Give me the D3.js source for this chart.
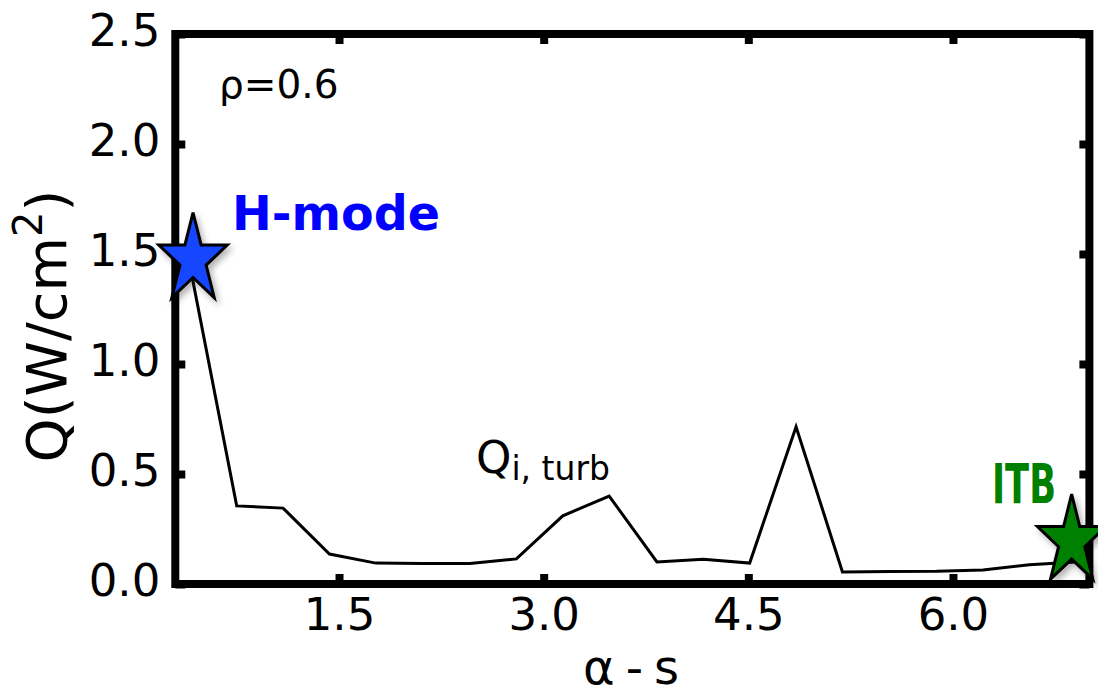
<!DOCTYPE html>
<html>
<head>
<meta charset="utf-8">
<script src="https://cdn.jsdelivr.net/npm/d3@7"></script>
<style>
  html, body { margin: 0; padding: 0; background: #fff; }
  svg { display: block; font-family: "DejaVu Sans", sans-serif; }
</style>
</head>
<body>
<svg id="chart" width="1098" height="696"></svg>
<script>
// Turbulent ion heat flux vs alpha - s at rho = 0.6
const alphaS = [0.40, 0.75, 1.09, 1.43, 1.77, 2.11, 2.46, 2.80, 3.14, 3.48,
                3.83, 4.17, 4.51, 4.85, 5.19, 5.54, 5.88, 6.22, 6.56, 6.90];
const qTurb  = [1.47, 0.355, 0.345, 0.136, 0.095, 0.093, 0.093, 0.114, 0.31, 0.40,
                0.10, 0.113, 0.095, 0.715, 0.055, 0.057, 0.058, 0.064, 0.088, 0.10];

// Regime markers
const regimeNames = ["H-mode", "ITB"];
const regimeX = [0.43, 6.87];
const regimeY = [1.475, 0.195];
const regimeColors = ["#1446ff", "#008000"];

const xTicks = [1.5, 3.0, 4.5, 6.0];
const yTicks = [0.0, 0.5, 1.0, 1.5, 2.0, 2.5];
const xDomain = [0.3, 7.0];
const yDomain = [0, 2.5];

const svg = d3.select("#chart");

// plot frame
const x = d3.scaleLinear().domain(xDomain).range([175.3, 1089.4]);
const y = d3.scaleLinear().domain(yDomain).range([584, 34]);

const defs = svg.append("defs");
const shadow = defs.append("filter").attr("id", "shadow")
  .attr("x", "-40%").attr("y", "-40%").attr("width", "180%").attr("height", "180%");
shadow.append("feDropShadow")
  .attr("dx", 3).attr("dy", 4).attr("stdDeviation", 3)
  .attr("flood-color", "#000").attr("flood-opacity", 0.3);

const tickLen = -10;
const fmt = d3.format(".1f");

function styleAxis(g) {
  g.select(".domain").remove();
  g.selectAll(".tick line").attr("stroke", "#000").attr("stroke-width", 8);
}

// bottom axis with labels
const gx = svg.append("g")
  .attr("transform", `translate(0,${y(0)})`)
  .call(d3.axisBottom(x).tickValues(xTicks).tickSize(tickLen).tickFormat(fmt));
styleAxis(gx);
gx.selectAll(".tick text")
  .attr("y", 46).attr("dy", 0)
  .attr("font-size", 45).attr("fill", "#000")
  .attr("font-family", "DejaVu Sans");

// top axis, ticks only
const gxt = svg.append("g")
  .attr("transform", `translate(0,${y(2.5)})`)
  .call(d3.axisTop(x).tickValues(xTicks).tickSize(tickLen).tickFormat(""));
styleAxis(gxt);

// left axis with labels
const gy = svg.append("g")
  .attr("transform", `translate(${x(xDomain[0])},0)`)
  .call(d3.axisLeft(y).tickValues(yTicks).tickSize(tickLen).tickFormat(fmt));
styleAxis(gy);
gy.selectAll(".tick text")
  .attr("x", -15).attr("dy", 11)
  .attr("font-size", 45).attr("fill", "#000")
  .attr("font-family", "DejaVu Sans");

// right axis, ticks only
const gyr = svg.append("g")
  .attr("transform", `translate(${x(xDomain[1])},0)`)
  .call(d3.axisRight(y).tickValues(yTicks).tickSize(tickLen).tickFormat(""));
styleAxis(gyr);

// frame
svg.append("rect")
  .attr("x", x(xDomain[0])).attr("y", y(yDomain[1]))
  .attr("width", x(xDomain[1]) - x(xDomain[0]))
  .attr("height", y(yDomain[0]) - y(yDomain[1]))
  .attr("fill", "none").attr("stroke", "#000").attr("stroke-width", 8);

// flux curve
const line = d3.line().x((d, i) => x(alphaS[i])).y(d => y(d));
svg.append("path")
  .datum(qTurb)
  .attr("d", line)
  .attr("fill", "none")
  .attr("stroke", "#000")
  .attr("stroke-width", 3)
  .attr("stroke-linejoin", "miter");

// five-point star marker
function starPath(cx, cy, rx, ry) {
  const inner = 0.381966;
  const pts = [];
  for (let k = 0; k < 10; k++) {
    const r = k % 2 === 0 ? 1 : inner;
    const a = -Math.PI / 2 + k * Math.PI / 5;
    pts.push([cx + rx * r * Math.cos(a), cy + ry * r * Math.sin(a)]);
  }
  return "M" + pts.map(p => p.join(",")).join("L") + "Z";
}

svg.append("g").selectAll("path.star")
  .data(regimeNames)
  .join("path")
  .attr("class", "star")
  .attr("d", (d, i) => starPath(x(regimeX[i]), y(regimeY[i]), 36, 47))
  .attr("fill", (d, i) => regimeColors[i])
  .attr("stroke", "#000")
  .attr("stroke-width", 3)
  .attr("stroke-linejoin", "miter")
  .attr("filter", "url(#shadow)");

// annotations
svg.append("text")
  .attr("x", 232).attr("y", 230)
  .attr("font-size", 48).attr("font-weight", "bold")
  .attr("fill", "#0000ff")
  .attr("textLength", 208).attr("lengthAdjust", "spacingAndGlyphs")
  .text(regimeNames[0]);

svg.append("text")
  .attr("x", 992).attr("y", 503)
  .attr("font-size", 55).attr("font-weight", "bold")
  .attr("fill", "#008000")
  .attr("textLength", 64).attr("lengthAdjust", "spacingAndGlyphs")
  .text(regimeNames[1]);

svg.append("text")
  .attr("x", 219).attr("y", 98)
  .attr("font-size", 39).attr("fill", "#000")
  .text("ρ=0.6");

const qLab = svg.append("text")
  .attr("x", 476).attr("y", 473)
  .attr("font-size", 45).attr("fill", "#000");
qLab.append("tspan").text("Q");
qLab.append("tspan").attr("font-size", 33).attr("dy", 7).text("i, turb");

// axis titles
svg.append("text")
  .attr("x", 583).attr("y", 684)
  .attr("font-size", 48).attr("fill", "#000")
  .attr("textLength", 96).attr("lengthAdjust", "spacing")
  .text("α - s");

const yLab = svg.append("text")
  .attr("transform", "translate(66,326) rotate(-90)")
  .attr("text-anchor", "middle")
  .attr("font-size", 56).attr("fill", "#000");
yLab.append("tspan").text("Q(W/cm");
yLab.append("tspan").attr("font-size", 40).attr("dy", -24).text("2");
yLab.append("tspan").attr("dy", 24).text(")");
</script>
</body>
</html>
